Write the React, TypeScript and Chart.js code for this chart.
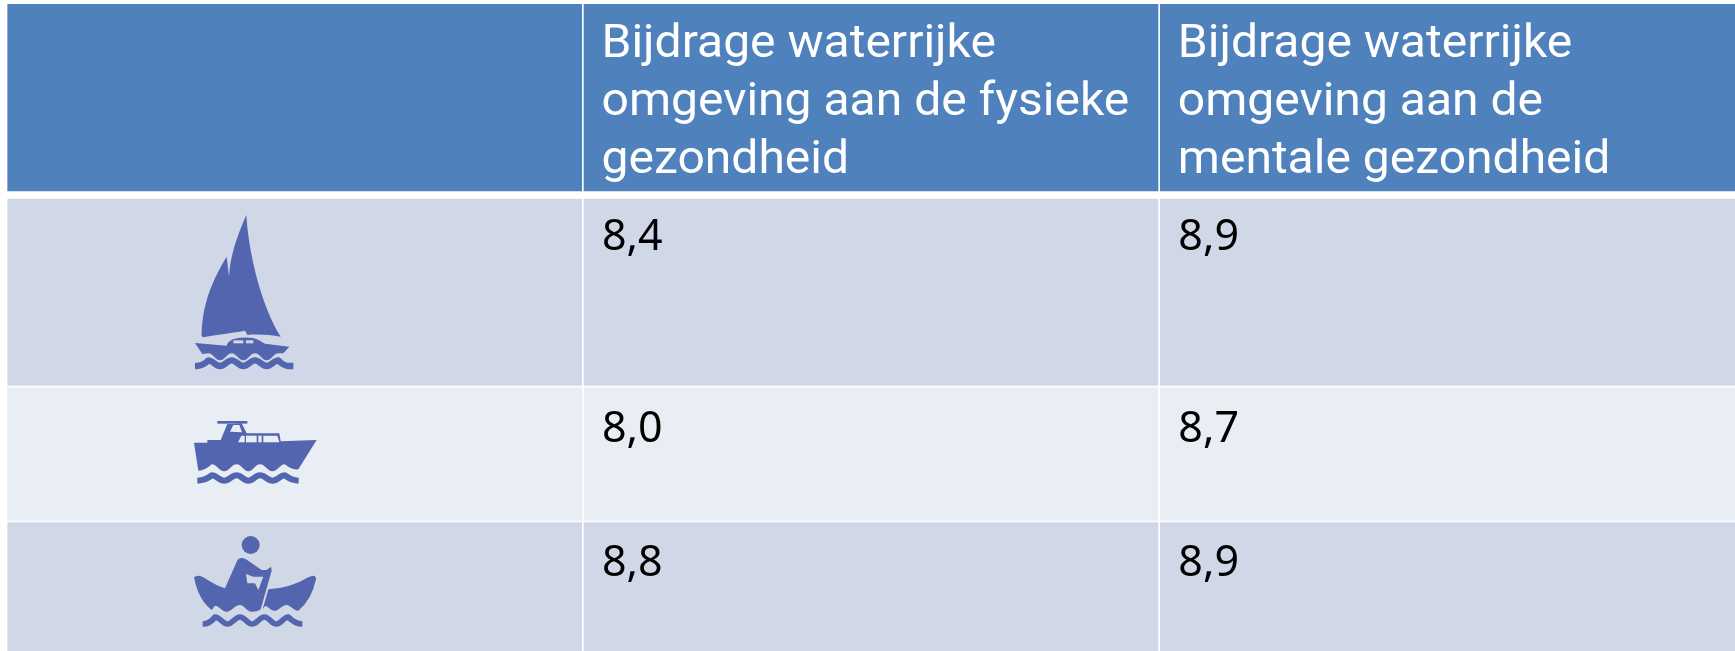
import React, { useEffect, useRef } from "react";
import { Chart, registerables } from "chart.js";

Chart.register(...registerables);

const rowNames = ["Zeilboot", "Motorboot", "Roeiboot"];
const headerLines1 = ["Bijdrage waterrijke", "omgeving aan de fysieke", "gezondheid"];
const headerLines2 = ["Bijdrage waterrijke", "omgeving aan de", "mentale gezondheid"];
const fysiek = [8.4, 8.0, 8.8];
const mentaal = [8.9, 8.7, 8.9];

const W = 1735;
const H = 651;
const columnEdges: [number, number][] = [[7.7, 581.7], [584, 1158], [1160.3, 1735]];
const headerBand: [number, number] = [4.4, 191];
const rowBands: [number, number][] = [[199, 385.4], [387.7, 520.3], [522.7, 651]];
const headerColor = "#4F81BD";
const rowColors = ["#D0D8E8", "#E9EDF4", "#D0D8E8"];
const iconColor = "#5265AE";
const format = (v: number) => v.toFixed(1).replace(".", ",");

function bandDataset(label: string, band: [number, number], color: string) {
  return {
    label,
    data: columnEdges.map((c) => ({ x: [c[0], c[1]], y: (band[0] + band[1]) / 2 })),
    backgroundColor: color,
    barThickness: band[1] - band[0],
    grouped: false,
    borderWidth: 0,
  };
}

// Smooth wave through the given crest x positions (icon-local units), no leading move.
function wave(crests: number[], c: number, t: number) {
  let d = "";
  for (let i = 0; i < crests.length - 1; i++) {
    const a = crests[i];
    const b = crests[i + 1];
    const m = (a + b) / 2;
    const q = (b - a) / 5;
    d += ` C${a + q} ${c} ${m - q} ${t} ${m} ${t} C${m + q} ${t} ${b - q} ${c} ${b} ${c}`;
  }
  return d;
}

const sail = new Path2D(
  "M229 45 C235 150 270 310 332 410 C300 405 265 402 232 405 L225 392 C180 400 130 405 100 412 Q93 410 95 400 C97 330 115 260 170 170 L177 230 C180 165 205 100 229 45 Z"
);
const sailHull = new Path2D(
  `M75 429 L170 437 Q172 425 190 417 Q220 410 250 414 Q270 420 285 431 L358 440 L340 460 L325 460 ${wave([325, 255, 185, 115], 460, 481)} L97 462 Z`
);
const sailWave = new Path2D(
  `M75 498 L80 498 Q100 497 115 481 ${wave([115, 185, 255, 325], 481, 498)} Q340 497 355 498 L370 498`
);
const motorHull = new Path2D(
  `M72 128 L112 128 L112 120 L152 120 L172 72 L215 70 L230 100 L328 100 L332 124 L440 120 L385 208 Q362 210 345 193 ${wave([345, 270, 200, 125], 193, 214)} Q105 212 85 212 Z`
);
const motorWave = new Path2D(
  `M82 242 Q108 240 125 226 ${wave([125, 200, 270, 345], 226, 242)} Q362 240 386 242`
);
const canoeLeft = new Path2D(
  "M72 172 Q85 160 110 178 Q140 198 165 205 L200 125 Q208 108 228 118 L275 150 L290 150 L303 140 L305 152 L272 268 C262 275 250 276 245 275 C230 275 222 255 210 255 C195 255 185 275 170 275 C155 275 148 257 135 257 C130 262 128 268 125 270 Q85 240 72 172 Z"
);
const canoeRight = new Path2D(
  "M295 208 Q360 205 415 172 Q438 160 438 178 Q425 240 385 272 C368 272 362 255 350 255 C335 255 328 272 315 272 C300 272 295 258 285 258 L278 268 Z"
);
const canoeWave = new Path2D(
  `M98 312 Q120 312 135 291 ${wave([135, 210, 283, 355], 291, 312)} Q375 312 397 312`
);
const motorWindows = [
  "M204 127 L214 107 L224 107 L224 127 Z",
  "M228 107 L260 107 L260 127 L228 127 Z",
  "M265 107 L275 107 L275 127 L265 127 Z",
  "M280 107 L322 107 L328 127 L280 127 Z",
  "M180 95 L190 75 L208 75 L216 97 Z",
].map((d) => new Path2D(d));
const canoeCut = new Path2D("M228 162 L250 170 L280 170 L265 210 L255 190 L232 190 Z");

function drawIcons(ctx: CanvasRenderingContext2D) {
  const place = (ox: number, oy: number, fn: () => void) => {
    ctx.save();
    ctx.translate(ox, oy);
    ctx.scale(1 / 3, 1 / 3);
    ctx.filter = "blur(0.5px)";
    ctx.fillStyle = iconColor;
    ctx.strokeStyle = iconColor;
    ctx.lineJoin = "round";
    fn();
    ctx.restore();
  };
  place(170, 200, () => {
    ctx.fill(sail);
    ctx.fill(sailHull);
    ctx.lineWidth = 19;
    ctx.stroke(sailWave);
    ctx.fillStyle = rowColors[0];
    ctx.fillRect(190, 421, 30, 9);
    ctx.fillRect(228, 421, 22, 9);
  });
  place(170, 400, () => {
    ctx.fill(motorHull);
    ctx.fillRect(142, 63, 90, 8);
    ctx.lineWidth = 18;
    ctx.stroke(motorWave);
    ctx.fillStyle = rowColors[1];
    motorWindows.forEach((p) => ctx.fill(p));
  });
  place(170, 520, () => {
    ctx.beginPath();
    ctx.arc(242, 75, 27, 0, Math.PI * 2);
    ctx.fill();
    ctx.fill(canoeLeft);
    ctx.fill(canoeRight);
    ctx.lineWidth = 17;
    ctx.stroke(canoeWave);
    ctx.fillStyle = rowColors[2];
    ctx.fill(canoeCut);
  });
}

const tablePlugin = {
  id: "tableText",
  afterDatasetsDraw(chart: any) {
    const ctx: CanvasRenderingContext2D = chart.ctx;
    const xs = chart.scales.x;
    const ys = chart.scales.y;
    ctx.save();
    ctx.textBaseline = "alphabetic";
    ctx.textAlign = "left";
    ctx.fillStyle = "#FFFFFF";
    ctx.font = "400 46px Roboto";
    [headerLines1, headerLines2].forEach((lines, c) => {
      lines.forEach((line, i) => {
        const px = xs.getPixelForValue(columnEdges[c + 1][0] + 17.5);
        const py = ys.getPixelForValue(56.7 + i * 58);
        ctx.save();
        ctx.translate(px, py);
        ctx.scale(1.044, 1);
        ctx.fillText(line, 0, 0);
        ctx.restore();
      });
    });
    ctx.fillStyle = "#000000";
    ctx.font = '400 43px "Noto Sans"';
    const baselines = [250, 441.7, 576];
    [fysiek, mentaal].forEach((vals, c) => {
      vals.forEach((v, i) => {
        ctx.fillText(format(v), xs.getPixelForValue(columnEdges[c + 1][0] + 18), ys.getPixelForValue(baselines[i]));
      });
    });
    ctx.restore();
    drawIcons(ctx);
  },
};

export default function App() {
  const ref = useRef<HTMLCanvasElement>(null);
  useEffect(() => {
    document.body.style.margin = "0";
    const chart = new Chart(ref.current!, {
      type: "bar",
      data: {
        datasets: [
          bandDataset("Kop", headerBand, headerColor),
          ...rowNames.map((n, i) => bandDataset(n, rowBands[i], rowColors[i])),
        ],
      },
      options: {
        indexAxis: "y",
        animation: false,
        responsive: false,
        layout: { padding: 0 },
        plugins: { legend: { display: false }, tooltip: { enabled: false }, title: { display: false } },
        scales: {
          x: { type: "linear", min: 0, max: W, display: false, offset: false },
          y: { type: "linear", min: 0, max: H, reverse: true, display: false, offset: false },
        },
      } as any,
      plugins: [tablePlugin],
    } as any);
    return () => chart.destroy();
  }, []);
  return <canvas ref={ref} width={W} height={H} style={{ display: "block", width: W, height: H }} />;
}
